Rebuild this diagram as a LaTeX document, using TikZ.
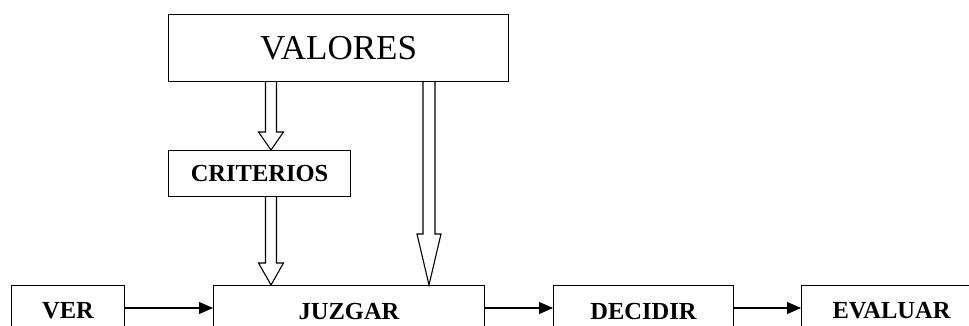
\documentclass[tikz,border=0pt]{standalone}
\usepackage{fontspec}
\setmainfont{Liberation Serif}
\usetikzlibrary{arrows.meta,calc}

% hollow block arrow pointing down: from, to, shaft half-width, head half-width, head length
\newcommand\hollowarrow[5]{%
  \draw[hollow] let \p1=(#1), \p2=(#2) in
    (\x1-#3pt,\y1) -- (\x1-#3pt,\y2+#5pt) -- (\x1-#4pt,\y2+#5pt) -- (\x1,\y2)
    -- (\x1+#4pt,\y2+#5pt) -- (\x1+#3pt,\y2+#5pt) -- (\x1+#3pt,\y1);
}

\begin{document}
\begin{tikzpicture}[x=1pt,y=-1pt,
  box/.style={draw,line width=1.1pt,inner sep=0pt,anchor=north west,
    font=\fontsize{24.5}{28}\selectfont\bfseries},
  flow/.style={line width=1.1pt,-{Triangle[length=14pt,width=12pt]}},
  hollow/.style={line width=1.1pt,fill=white,line join=miter}]
\useasboundingbox (0,0) rectangle (969,326);
\clip (0,0) rectangle (969,326);

% upper boxes
\node[box,minimum width=340pt,minimum height=67pt,
  font=\fontsize{35}{40}\selectfont] (valores) at (168,14) {VALORES};
\node[box,minimum width=182pt,minimum height=46pt] (criterios) at (168,150) {CRITERIOS};

% process chain (boxes run past the lower edge)
\node[box,minimum width=113pt,minimum height=51pt] (ver) at (11,285) {VER};
\node[box,minimum width=271pt,minimum height=51pt] (juzgar) at (213,285) {JUZGAR};
\node[box,minimum width=180pt,minimum height=51pt] (decidir) at (553,285) {DECIDIR};
\node[box,minimum width=180pt,minimum height=51pt] (evaluar) at (801,285) {EVALUAR};

% horizontal flow arrows
\draw[flow] (ver.east |- 0,308) -- (juzgar.west |- 0,308);
\draw[flow] (juzgar.east |- 0,308) -- (decidir.west |- 0,308);
\draw[flow] (decidir.east |- 0,308) -- (evaluar.west |- 0,308);

% block arrows from VALORES
\coordinate (a) at ($(valores.south west)+(103,0)$);
\coordinate (b) at ($(valores.south west)+(261,0)$);
\hollowarrow{a}{a |- criterios.north}{5.5}{12.5}{18}
\hollowarrow{a |- criterios.south}{a |- juzgar.north}{5.5}{12.5}{22}
\hollowarrow{b}{b |- juzgar.north}{6}{12}{51}
\end{tikzpicture}
\end{document}
